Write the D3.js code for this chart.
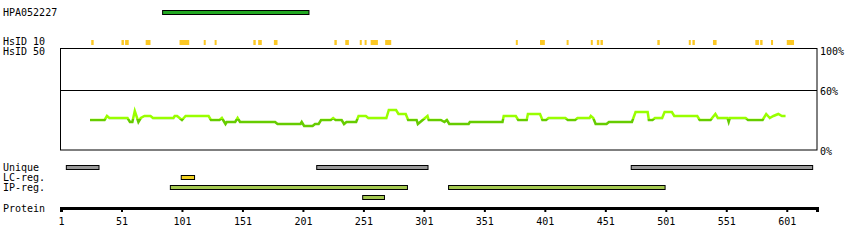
<!DOCTYPE html>
<meta charset="utf-8">
<script src="https://d3js.org/d3.v7.min.js"></script>
<style>
  body { margin: 0; background: #fff; }
  text { font-family: "DejaVu Sans Mono", monospace; font-size: 10px; fill: #000; }
</style>
<div id="my_dataviz"></div>
<script>

// protein length and antigen
var proteinLength = 626;
var antigenName = "HPA052227";
var antigen = [85, 206];

// HsID 10 conserved stretches [start, end]
var hsid10 = [[26,28],[51,53],[54,57],[71,75],[99,107],[119,120],[128,129],[160,162],[164,167],
  [177,180],[227,229],[236,239],[248,249],[252,253],[257,263],[269,274],[377,378],[397,401],
  [419,420],[439,440],[444,446],[447,449],[494,496],[520,521],[523,525],[540,543],[575,578],
  [579,581],[588,589],[601,607]];

// identity profile (% identity along the sequence)
var idPos = [25,37,39,41,56,58,60,62,65,67,70,75,77,94,95,97,101,104,123,125,132,134,137,138,145,147,149,
  178,180,199,200,202,209,211,214,216,224,226,228,233,235,237,245,247,253,255,270,272,278,280,286,288,
  295,296,304,305,315,318,320,322,338,339,366,367,377,379,386,387,397,399,402,404,418,420,426,428,438,
  439,441,443,452,454,473,476,486,487,490,492,498,500,506,508,527,529,538,542,544,552,553,554,567,569,
  581,584,587,590,594,597,600];
var idVal = [30,30,34,32,32,28,28,39,28,32,34,34,32,32,34,34,30,34,34,30,30,32,26,28,28,32,28,
  28,26,26,28,24,24,26,26,30,30,32,30,30,26,28,28,34,34,32,32,40,40,36,36,30,
  30,26,34,30,30,28,30,26,26,28,28,34,34,30,30,36,36,30,30,32,32,30,30,32,32,
  34,32,26,26,28,28,38,38,30,30,32,32,38,38,34,34,30,30,36,32,32,28,32,32,30,
  30,36,32,34,36,34,34];
var threshold = 31;

// feature tracks
var uniqueRegions = [[5,32],[212,304],[472,622]];
var lcRegions = [[100,111]];
var ipRegions = [[91,287,0],[321,500,0],[250,268,1]];

var axisTicks = [1,51,101,151,201,251,301,351,401,451,501,551,601,626];
var pctTicks = [0,60,100];

var width = 850, height = 250;

var svg = d3.select("#my_dataviz")
  .append("svg")
    .attr("width", width)
    .attr("height", height);

var x = d3.scaleLinear().domain([1, proteinLength]).range([61, 817]);
var y = d3.scaleLinear().domain([0, 100]).range([150, 50]);

// labels on the left
var labels = [["HPA052227",16],["HsID 10",45],["HsID 50",55],["Unique",171],["LC-reg.",181],["IP-reg.",191],["Protein",212]];
svg.selectAll(".lbl")
  .data(labels)
  .enter().append("text")
    .attr("x", 3)
    .attr("y", function(d){ return d[1]; })
    .text(function(d){ return d[0]; });

// antigen bar
svg.append("rect")
  .attr("x", x(antigen[0])).attr("y", 10.5)
  .attr("width", x(antigen[1]) - x(antigen[0])).attr("height", 4)
  .attr("fill", "#22a822").attr("stroke", "#000");

// HsID 10 marks
svg.selectAll(".hs")
  .data(hsid10)
  .enter().append("rect")
    .attr("x", function(d){ return x(d[0]); })
    .attr("y", 40)
    .attr("width", function(d){ return Math.max(2, x(d[1]) - x(d[0])); })
    .attr("height", 5)
    .attr("fill", "#fcc824");

// frame + 60% line
svg.append("rect")
  .attr("x", 60.5).attr("y", y(100) - 1.5)
  .attr("width", x(proteinLength) - 60.5).attr("height", y(0) - y(100) + 1.5)
  .attr("fill", "none").attr("stroke", "#000");
svg.append("line")
  .attr("x1", 60.5).attr("x2", x(proteinLength))
  .attr("y1", Math.round(y(60)) + 0.5).attr("y2", Math.round(y(60)) + 0.5)
  .attr("stroke", "#000");

svg.append("g")
  .attr("transform", "translate(" + x(proteinLength) + ",0)")
  .call(d3.axisRight(y).tickValues(pctTicks).tickSize(0).tickPadding(3).tickFormat(function(d){ return d + "%"; }))
  .call(function(g){ g.select(".domain").remove(); g.selectAll("text").attr("font-family", null).attr("font-size", null).attr("dy", "0.45em"); });

// identity line, coloured by threshold
var grad = svg.append("defs").append("linearGradient")
  .attr("id", "idgrad").attr("gradientUnits", "userSpaceOnUse")
  .attr("x1", 0).attr("x2", 0).attr("y1", y(100)).attr("y2", y(0));
var off = (100 - threshold) / 100;
[[0,"#99ff00"],[off,"#99ff00"],[off,"#66cc00"],[1,"#66cc00"]].forEach(function(s){
  grad.append("stop").attr("offset", s[0]).attr("stop-color", s[1]);
});

var idData = idPos.map(function(p, i){ return [p, idVal[i]]; });
svg.append("path")
  .datum(idData)
  .attr("fill", "none")
  .attr("stroke", "url(#idgrad)")
  .attr("stroke-width", 2.5)
  .attr("d", d3.line().x(function(d){ return x(d[0]); }).y(function(d){ return y(d[1]); }));

// tracks
function track(data, top, fill) {
  svg.append("g").selectAll("rect")
    .data(data)
    .enter().append("rect")
      .attr("x", function(d){ return x(d[0]) + 0.5; })
      .attr("y", function(d){ return top + (d[2] || 0) * 10; })
      .attr("width", function(d){ return x(d[1]) - x(d[0]); })
      .attr("height", 4)
      .attr("fill", fill)
      .attr("stroke", "#000");
}
track(uniqueRegions, 165.5, "#999999");
track(lcRegions, 175.5, "#f0d020");
track(ipRegions, 185.5, "#a4c850");

// protein axis
svg.append("g")
  .attr("transform", "translate(0,208)")
  .call(d3.axisBottom(x).tickValues(axisTicks).tickSizeOuter(0).tickSize(4).tickPadding(6)
    .tickFormat(function(d){ return d === proteinLength ? "" : d; }))
  .call(function(g){
    g.select(".domain").attr("stroke-width", 3);
    g.selectAll(".tick line").attr("stroke-width", 2);
    g.selectAll("text").attr("font-family", null).attr("font-size", null);
  });

</script>
